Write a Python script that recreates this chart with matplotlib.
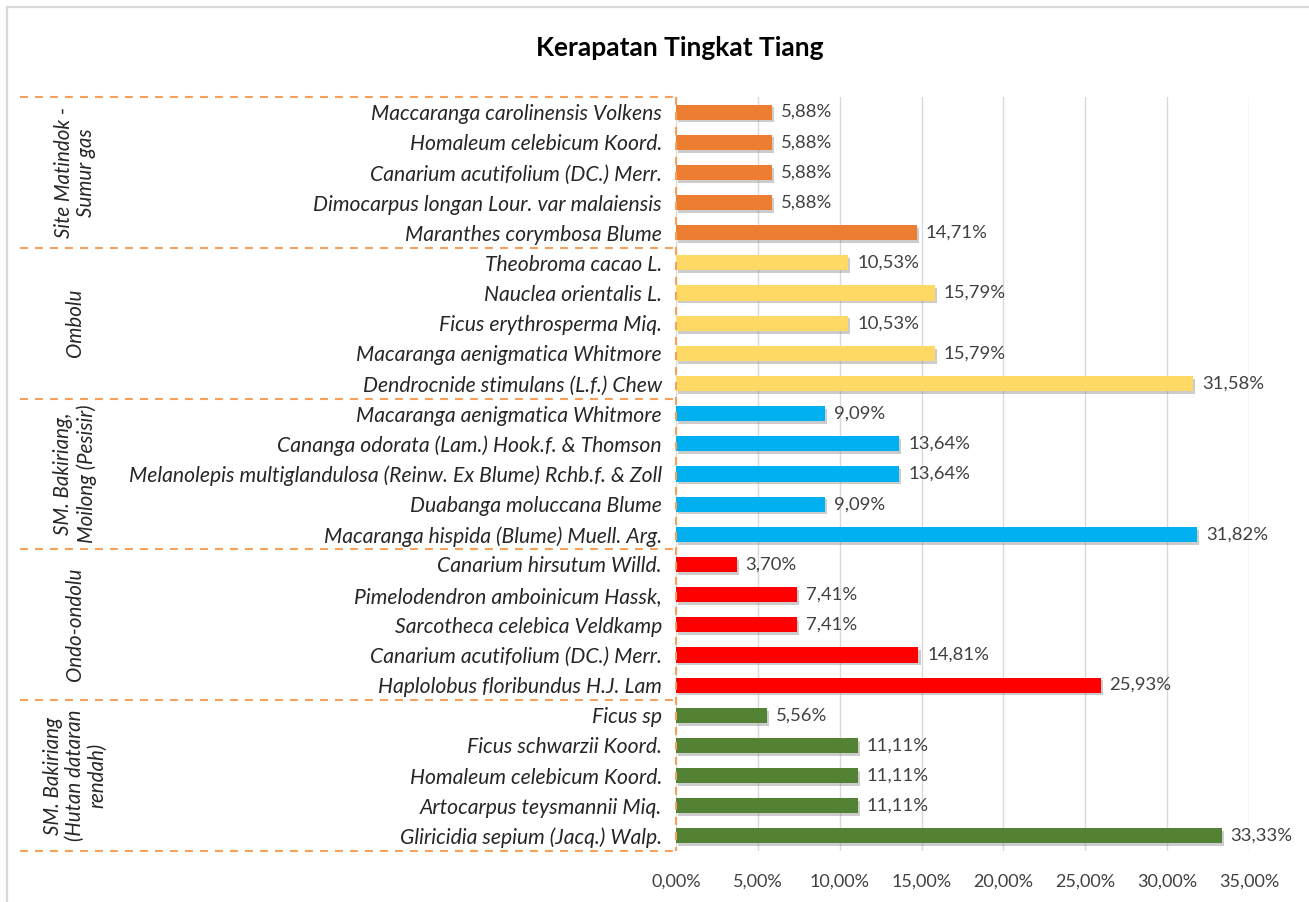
import matplotlib
matplotlib.use("Agg")
import matplotlib.pyplot as plt
import matplotlib.patheffects as pe
from matplotlib.transforms import blended_transform_factory
from matplotlib.lines import Line2D
from matplotlib.ticker import FuncFormatter

plt.rcParams['font.family'] = ['Lato', 'DejaVu Sans']

# Groups, top to bottom
group_names = ["Site Matindok -\nSumur gas", "Ombolu", "SM. Bakiriang,\nMoilong (Pesisir)",
               "Ondo-ondolu", "SM. Bakiriang\n(Hutan dataran\nrendah)"]
group_colors = ["#ED7D31", "#FFD966", "#00B0F0", "#FF0000", "#548235"]

species_matindok = ["Maccaranga carolinensis Volkens", "Homaleum celebicum Koord.",
                    "Canarium acutifolium (DC.) Merr.", "Dimocarpus longan Lour. var malaiensis",
                    "Maranthes corymbosa Blume"]
values_matindok = [5.88, 5.88, 5.88, 5.88, 14.71]

species_ombolu = ["Theobroma cacao L.", "Nauclea orientalis L.", "Ficus erythrosperma Miq.",
                  "Macaranga aenigmatica Whitmore", "Dendrocnide stimulans (L.f.) Chew"]
values_ombolu = [10.53, 15.79, 10.53, 15.79, 31.58]

species_moilong = ["Macaranga aenigmatica Whitmore", "Cananga odorata (Lam.) Hook.f. & Thomson",
                   "Melanolepis multiglandulosa (Reinw. Ex Blume) Rchb.f. & Zoll",
                   "Duabanga moluccana Blume", "Macaranga hispida (Blume) Muell. Arg."]
values_moilong = [9.09, 13.64, 13.64, 9.09, 31.82]

species_ondo = ["Canarium hirsutum Willd.", "Pimelodendron amboinicum Hassk,",
                "Sarcotheca celebica Veldkamp", "Canarium acutifolium (DC.) Merr.",
                "Haplolobus floribundus H.J. Lam"]
values_ondo = [3.70, 7.41, 7.41, 14.81, 25.93]

species_hutan = ["Ficus sp", "Ficus schwarzii Koord.", "Homaleum celebicum Koord.",
                 "Artocarpus teysmannii Miq.", "Gliricidia sepium (Jacq.) Walp."]
values_hutan = [5.56, 11.11, 11.11, 11.11, 33.33]

groups_species = [species_matindok, species_ombolu, species_moilong, species_ondo, species_hutan]
groups_values = [values_matindok, values_ombolu, values_moilong, values_ondo, values_hutan]

xticks = [0, 5, 10, 15, 20, 25, 30, 35]

W, H = 1309, 902
fig = plt.figure(figsize=(W / 100, H / 100), dpi=100)
fig.patch.set_facecolor("white")

# outer frame (top and left edges visible)
fig.add_artist(Line2D([7 / W, 7 / W], [0, 1 - 7 / H], transform=fig.transFigure,
                      color="#D9D9D9", linewidth=1.6))
fig.add_artist(Line2D([7 / W, 1], [1 - 7 / H, 1 - 7 / H], transform=fig.transFigure,
                      color="#D9D9D9", linewidth=1.6))

left, right, top, bottom = 676, 1249, 97, 851
ax = fig.add_axes([left / W, 1 - bottom / H, (right - left) / W, (bottom - top) / H])

labels, vals, cols, ypos = [], [], [], []
n_total = sum(len(g) for g in groups_species)
pos = n_total - 1
group_bounds = []
for gi, (sp, vv) in enumerate(zip(groups_species, groups_values)):
    start = pos
    for s, v in zip(sp, vv):
        labels.append(s)
        vals.append(v / 100)
        cols.append(group_colors[gi])
        ypos.append(pos)
        pos -= 1
    group_bounds.append((start + 0.5, pos + 0.5))

bars = ax.barh(ypos, vals, height=0.5, color=cols, zorder=3)
for b in bars:
    b.set_path_effects([pe.SimplePatchShadow(offset=(1.5, -2), shadow_rgbFace="#808080", alpha=0.4),
                        pe.Normal()])

for y, v in zip(ypos, vals):
    ax.text(v + 0.0055, y, f"{v * 100:.2f}%".replace(".", ","), va="center", ha="left",
            fontsize=13.3, color="#404040", zorder=4)

ax.set_xlim(0, 0.35)
ax.set_ylim(-0.5, n_total - 0.5)
ax.set_xticks([t / 100 for t in xticks])
ax.xaxis.set_major_formatter(FuncFormatter(lambda x, p: f"{x * 100:.2f}%".replace(".", ",")))
ax.grid(axis="x", color="#D9D9D9", linewidth=1, zorder=0)
ax.set_axisbelow(True)
for s in ax.spines.values():
    s.set_visible(False)
ax.tick_params(axis="x", length=0, labelsize=13, labelcolor="#404040", pad=16)
ax.set_yticks(ypos)
ax.set_yticklabels(labels, fontsize=15.2, style="italic", color="#262626")
ax.tick_params(axis="y", length=0, pad=10)

# group separators
orange = "#F4A15D"
dash = (0, (3.8, 3.4))
tr = blended_transform_factory(ax.transAxes, ax.transData)
x_left = (20 - left) / (right - left)
bounds_y = [n_total - 0.5] + [b for _, b in group_bounds]
for by in bounds_y:
    ax.plot([x_left, 0], [by, by], transform=tr, color=orange, linestyle=dash,
            linewidth=1.5, clip_on=False, zorder=5)
ax.plot([0, 0], [n_total - 0.5, -0.5], transform=tr, color=orange, linestyle=dash,
        linewidth=1.5, clip_on=False, zorder=5)

x_glabel = (75 - left) / (right - left)
for (t, b), name in zip(group_bounds, group_names):
    ax.text(x_glabel, (t + b) / 2, name, transform=tr, rotation=90, ha="center", va="center",
            fontsize=14.8, style="italic", color="#262626", multialignment="center",
            linespacing=1.15)

fig.text(680 / W, 1 - 48 / H, "Kerapatan Tingkat Tiang", ha="center", va="center",
         fontsize=19, fontweight="bold", color="#000000")

fig.savefig("out.png", dpi=100)
